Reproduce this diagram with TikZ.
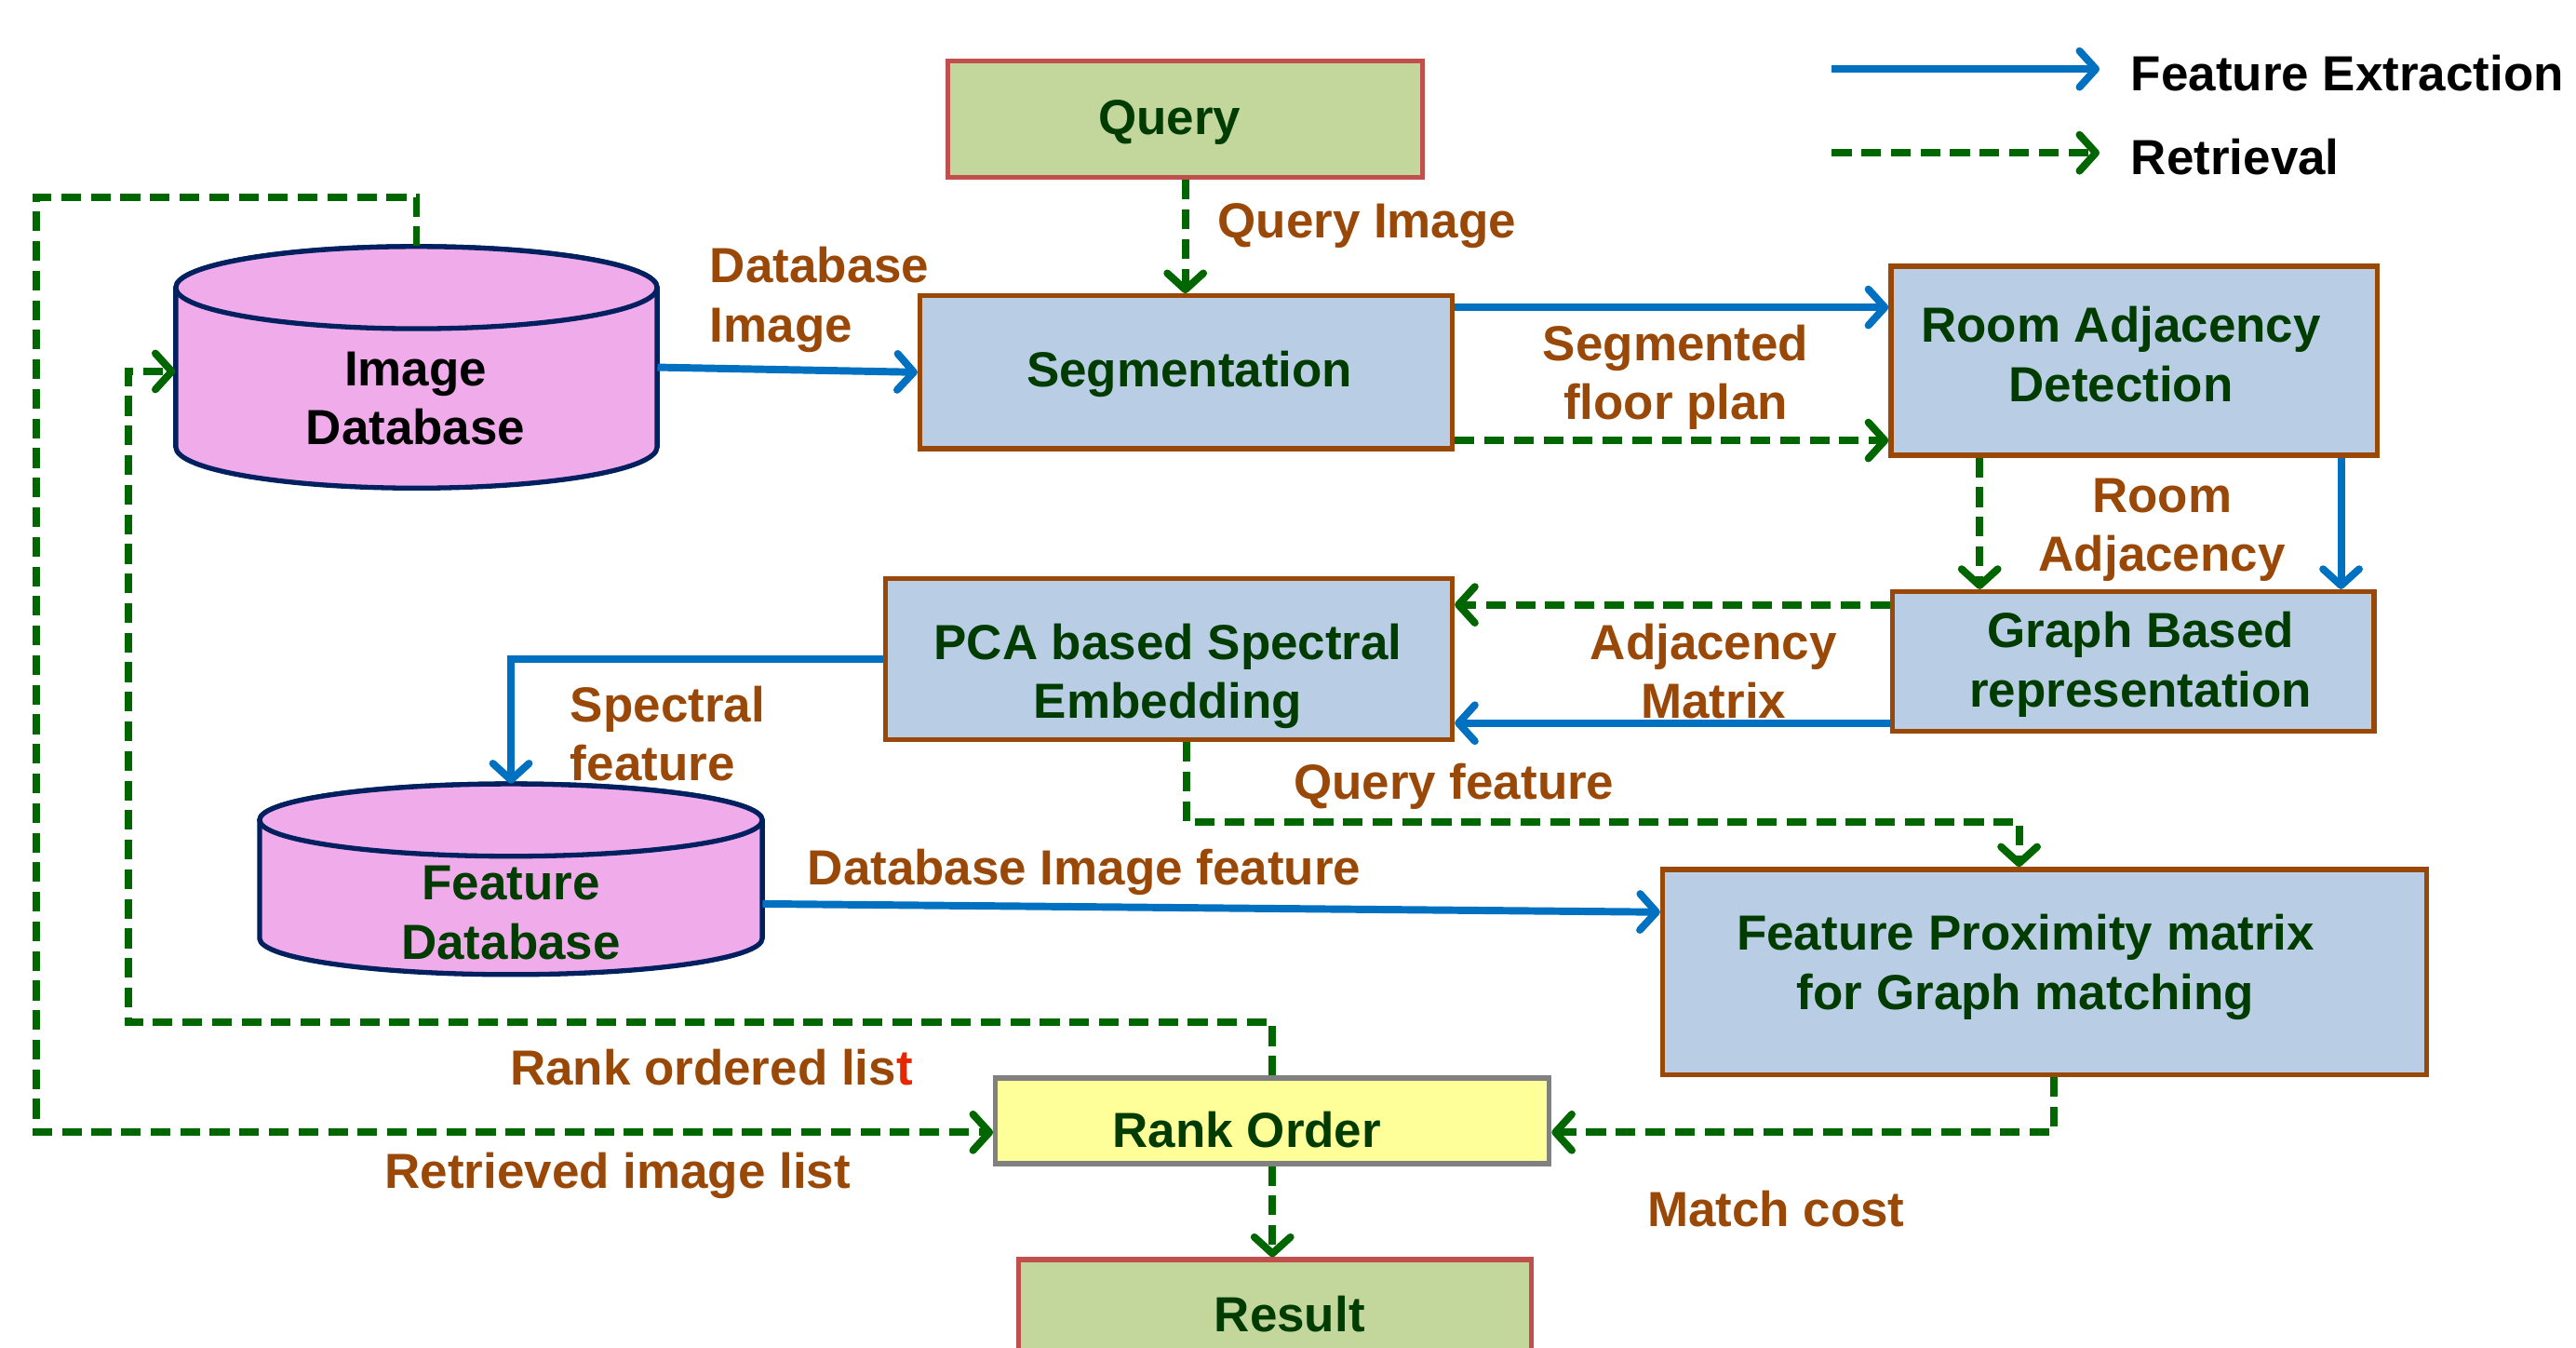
\documentclass[tikz,border=0pt]{standalone}
\usepackage{fontspec}
\setmainfont{Liberation Sans}
\usetikzlibrary{arrows.meta}
\definecolor{fblue}{RGB}{0,112,192}
\definecolor{rgreen}{RGB}{0,102,0}
\definecolor{txtgreen}{RGB}{0,60,0}
\definecolor{lbrown}{RGB}{153,72,7}
\definecolor{boxfill}{RGB}{185,205,229}
\definecolor{qfill}{RGB}{195,214,155}
\definecolor{qborder}{RGB}{192,80,77}
\definecolor{cylfill}{RGB}{240,172,234}
\definecolor{cylborder}{RGB}{0,32,96}
\definecolor{rankfill}{RGB}{255,255,153}
\definecolor{rankborder}{RGB}{128,128,128}
\definecolor{redt}{RGB}{230,40,0}
\begin{document}
\begin{tikzpicture}[x=1pt,y=-1pt,
  every node/.style={font=\fontsize{30}{36}\selectfont\bfseries, inner sep=0pt},
  procbox/.style={draw=lbrown, fill=boxfill, line width=3pt},
  termbox/.style={draw=qborder, fill=qfill, line width=3pt},
  txt/.style={text=txtgreen, align=center, yshift=-2.5pt},
  lbl/.style={text=lbrown, align=center, yshift=-2.5pt},
  cyl/.style={draw=cylborder, fill=cylfill, line width=3pt},
  fe/.style={draw=fblue, line width=4.5pt, -{Straight Barb[length=10pt,width=22pt,round]}},
  rt/.style={draw=rgreen, line width=4.5pt, dash pattern=on 12pt off 6pt, -{Straight Barb[length=10pt,width=22pt,round]}},
]
\useasboundingbox (0,0) rectangle (1568,820);
\clip (0,0) rectangle (1568,820);

% ---------- cylinders ----------
\node[minimum width=293pt, minimum height=147pt] (imgdb) at (253.5,223.5) {};
\draw[cyl] (107,175) -- (107,272) arc[start angle=180, end angle=360, x radius=146.5pt, y radius=25pt]
  -- (400,175) arc[start angle=0, end angle=180, x radius=146.5pt, y radius=25pt] -- cycle;
\draw[cyl] (253.5,175) ellipse [x radius=146.5pt, y radius=25pt];
\node[txt, text=black] (imgdbtxt) at (253,240) {Image\\Database};

\node[minimum width=306pt, minimum height=116pt] (fdb) at (311,535) {};
\draw[cyl] (158,499) -- (158,571) arc[start angle=180, end angle=360, x radius=153pt, y radius=22pt]
  -- (464,499) arc[start angle=0, end angle=180, x radius=153pt, y radius=22pt] -- cycle;
\draw[cyl] (311,499) ellipse [x radius=153pt, y radius=22pt];
\node[txt] (fdbtxt) at (311,553) {Feature\\Database};

% ---------- boxes ----------
\node[termbox, minimum width=289pt, minimum height=71pt] (query) at (721.5,72.5) {};
\node[txt] (querytxt) at (712,72) {Query};
\node[procbox, minimum width=324pt, minimum height=93pt] (seg) at (722,226.5) {};
\node[txt] (segtxt) at (724,225) {Segmentation};
\node[procbox, minimum width=296pt, minimum height=115pt] (rad) at (1299,219.5) {};
\node[txt] (radtxt) at (1291,213) {Room Adjacency\\Detection};
\node[procbox, minimum width=293pt, minimum height=85pt] (gbr) at (1298.5,402.5) {};
\node[txt] (gbrtxt) at (1303,402) {Graph Based\\representation};
\node[procbox, minimum width=345pt, minimum height=98pt] (pca) at (711.5,401) {};
\node[txt] (pcatxt) at (711,409) {PCA based Spectral\\Embedding};
\node[procbox, minimum width=465pt, minimum height=125pt] (fpm) at (1244.5,591.5) {};
\node[txt] (fpmtxt) at (1233,586) {Feature Proximity matrix\\for Graph matching};
\node[draw=rankborder, fill=rankfill, line width=3pt, minimum width=337pt, minimum height=52pt] (rank) at (774.5,682) {};
\node[txt] (ranktxt) at (759,685) {Rank Order};
\node[termbox, minimum width=312pt, minimum height=85pt, anchor=north] (result) at (776,765) {};
\node[txt] (resulttxt) at (785,797) {Result};

% ---------- connectors ----------
\draw[fe] (imgdb.east) -- (seg.west);
\draw[rt] (query.south) -- (query.south |- seg.north);

\coordinate (s1) at ([yshift=39.5pt]seg.east);
\coordinate (s2) at ([yshift=-41.5pt]seg.east);
\draw[fe] (s1) -- (s1 -| rad.west);
\draw[rt] (s2) -- (s2 -| rad.west);

\coordinate (r1) at ([xshift=-94pt]rad.south);
\coordinate (r2) at ([xshift=126pt]rad.south);
\draw[rt] (r1) -- (r1 |- gbr.north);
\draw[fe] (r2) -- (r2 |- gbr.north);

\coordinate (g1) at ([yshift=34.5pt]gbr.west);
\coordinate (g2) at ([yshift=-37.5pt]gbr.west);
\draw[rt] (g1) -- (g1 -| pca.east);
\draw[fe] (g2) -- (g2 -| pca.east);

\draw[fe] (pca.west) -| (fdb.north);

\coordinate (p1) at ([xshift=10.5pt]pca.south);
\coordinate (p2) at ([xshift=-15.5pt]fpm.north);
\coordinate (qf) at (900,500);
\draw[rt] (p1) -- (p1 |- qf) -- (qf -| p2) -- (p2);

\draw[fe] ([yshift=-15pt]fdb.east) -- ([yshift=36.5pt]fpm.west);

\coordinate (f1) at ([xshift=5.5pt]fpm.south);
\coordinate (k1) at ([yshift=-7pt]rank.east);
\draw[rt] (f1) |- (k1);

\coordinate (loop1) at (78,622);
\draw[rt] (rank.north) |- (loop1) |- ([yshift=-2.5pt]imgdb.west);

\coordinate (loop2) at (22,120);
\draw[rt] (imgdb.north) |- (loop2) |- ([yshift=-7pt]rank.west);

\draw[rt] (rank.south) -- (rank.south |- result.north);

% ---------- labels ----------
\node[lbl, align=left, anchor=west] (ldbimg) at (432,180) {Database\\Image};
\node[lbl, anchor=west] (lqimg) at (741,135) {Query Image};
\node[lbl] (lsegfp) at (1020,227) {Segmented\\floor plan};
\node[lbl] (lradj) at (1316,320) {Room\\Adjacency};
\node[lbl] (ladjm) at (1043,406) {Adjacency\\Matrix};
\node[lbl, align=left, anchor=west] (lspec) at (347,444) {Spectral\\feature};
\node[lbl] (lqf) at (885,476) {Query feature};
\node[lbl] (ldbif) at (660,528) {Database Image feature};
\node[lbl] (lrol) at (433,647) {Rank ordered lis\textcolor{redt}{t}};
\node[lbl] (lril) at (376,713) {Retrieved image list};
\node[lbl] (lmc) at (1081,733) {Match cost};

% ---------- legend ----------
\coordinate (la1) at (1115,42);
\coordinate (la2) at (1278,42);
\coordinate (lb1) at (1115,93);
\coordinate (lb2) at (1278,93);
\draw[fe] (la1) -- (la2);
\draw[rt] (lb1) -- (lb2);
\node[anchor=west, text=black, yshift=-2.5pt] (lfe) at (1297,42) {Feature Extraction};
\node[anchor=west, text=black, yshift=-2.5pt] (lret) at (1297,93) {Retrieval};
\end{tikzpicture}
\end{document}
